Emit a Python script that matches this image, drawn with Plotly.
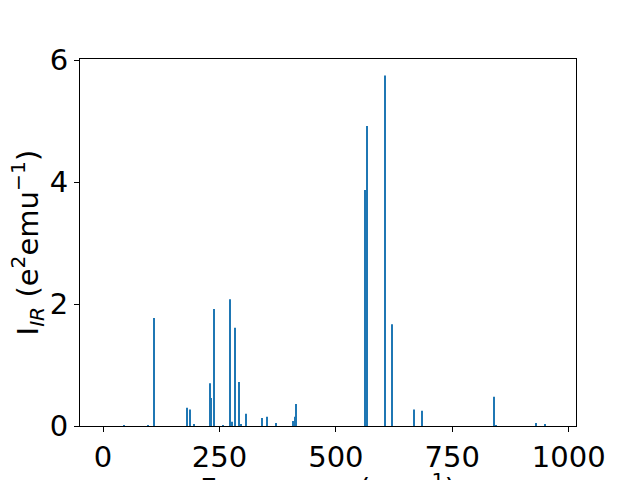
import plotly.graph_objects as go

frequencies = [44.4, 96, 110.2, 179.7, 186.8, 195.4, 229, 231, 239, 257, 272, 277.7,
               282.7, 292, 297, 307, 340.7, 351.5, 370.8, 408.7, 412.3, 414.4,
               561.9, 567.6, 605.5, 620.6, 667, 684.3, 839.6, 843, 929.8, 948.4]
intensities = [0.01, 0.01, 1.77, 0.30, 0.27, 0.02, 0.70, 0.46, 1.92, 0.01, 2.08, 0.07,
               1.61, 0.72, 0.02, 0.20, 0.13, 0.15, 0.05, 0.08, 0.15, 0.36,
               3.87, 4.92, 5.75, 1.67, 0.27, 0.25, 0.48, 0.01, 0.05, 0.02]
x_ticks = [0, 250, 500, 750, 1000]
y_ticks = [0, 2, 4, 6]

fig = go.Figure()
fig.add_trace(go.Bar(
    x=frequencies, y=intensities, width=2.2,
    marker=dict(color="#1f77b4", line=dict(width=0)),
))

font = dict(family="DejaVu Sans", size=29, color="black")

# page body has an 8px default margin: figure is offset by 8px in the window
fig.update_layout(
    template="none",
    width=632, height=472,
    margin=dict(l=72, r=64, t=51, b=54, autoexpand=False),
    paper_bgcolor="white", plot_bgcolor="white",
    showlegend=False,
    font=font,
)
fig.update_xaxes(
    range=[-49.4, 1015.7], tickvals=x_ticks, ticktext=[str(v) for v in x_ticks],
    showgrid=False, zeroline=False, showline=True, linecolor="black", linewidth=1,
    mirror=True, ticks="outside", ticklen=5, tickcolor="black", tickwidth=1,
    tickfont=font, automargin=False,
)
fig.update_yaxes(
    range=[0, 6.02], tickvals=y_ticks, ticktext=[str(v) for v in y_ticks],
    showgrid=False, zeroline=False, showline=True, linecolor="black", linewidth=1,
    mirror=True, ticks="outside", ticklen=5, tickcolor="black", tickwidth=1,
    tickfont=font, automargin=False,
)
fig.add_annotation(
    text="I<sub><i>IR</i></sub> (e<sup>2</sup>emu<sup>−1</sup>)",
    xref="paper", yref="paper", x=-0.107, y=0.5, xanchor="center", yanchor="middle",
    textangle=-90, showarrow=False, font=font,
)
fig.add_annotation(
    text="Frequency (cm<sup>−1</sup>)",
    xref="paper", yref="paper", x=0.5, y=-0.108, xanchor="center", yanchor="top",
    showarrow=False, font=font,
)
fig.write_html("out.html")
